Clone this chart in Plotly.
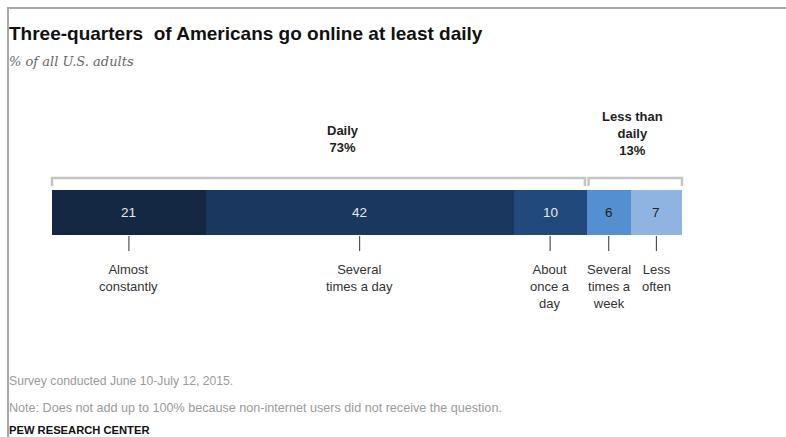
import plotly.graph_objects as go

# ---- data ----
categories = ["Almost constantly", "Several times a day", "About once a day",
              "Several times a week", "Less often"]
values = [21, 42, 10, 6, 7]
below_labels = ["Almost<br>constantly", "Several<br>times a day", "About<br>once a<br>day",
                "Several<br>times a<br>week", "Less<br>often"]
colors = ["#142843", "#1a375f", "#21497b", "#548fd2", "#90b4e2"]
value_text_colors = ["#e8e8e8", "#e8e8e8", "#e8e8e8", "#222222", "#222222"]
group_labels = ["<b>Daily<br>73%</b>", "<b>Less than<br>daily<br>13%</b>"]
group_spans = [(0, 73), (73, 86)]

title = "<b>Three-quarters  of Americans go online at least daily</b>"
subtitle = "<i>% of all U.S. adults</i>"
source = "Survey conducted June 10-July 12, 2015."
note = "Note: Does not add up to 100% because non-internet users did not receive the question."
credit = "<b>PEW RESEARCH CENTER</b>"

W, H = 786, 437
total = sum(values)
k = 630 / total  # px per unit
x_left_px = 52

fig = go.Figure()
for c, v, col in zip(categories, values, colors):
    fig.add_trace(go.Bar(y=[212.5], x=[v], width=[45], orientation="h", name=c,
                         marker=dict(color=col, line=dict(width=0)),
                         hoverinfo="name+x", showlegend=False))

fig.update_layout(
    width=W, height=H, barmode="stack", bargap=0,
    margin=dict(l=0, r=0, t=0, b=0),
    paper_bgcolor="white", plot_bgcolor="white",
    xaxis=dict(range=[-x_left_px / k, (W - x_left_px) / k], visible=False, fixedrange=True),
    yaxis=dict(range=[H, 0], visible=False, fixedrange=True),
    font=dict(family="Liberation Sans, Arial, sans-serif", color="#333333"),
)

ann = []
shapes = []
cum = 0
for v, lab, tc in zip(values, below_labels, value_text_colors):
    cx = cum + v / 2
    ann.append(dict(x=cx, y=212.5, xref="x", yref="y", text=str(v), showarrow=False,
                    font=dict(size=13.5, color=tc), xanchor="center", yanchor="middle"))
    shapes.append(dict(type="line", xref="x", yref="y", x0=cx, x1=cx, y0=236, y1=251,
                       line=dict(color="#333333", width=1)))
    ann.append(dict(x=cx, y=260, xref="x", yref="y", text=lab, showarrow=False,
                    font=dict(size=13, color="#333333"), xanchor="center", yanchor="top"))
    cum += v

# group brackets and labels
gap = 0.25
for i, ((a, b), gl) in enumerate(zip(group_spans, group_labels)):
    x0 = a + (gap if i > 0 else 0)
    x1 = b - (gap if i == 0 else 0)
    shapes.append(dict(type="path", xref="x", yref="y",
                       path=f"M {x0},186 L {x0},178 L {x1},178 L {x1},186",
                       line=dict(color="#c4c4c4", width=2.5)))
cx_daily = 39.7
cx_less = 79.2
ann.append(dict(x=cx_daily, y=157, xref="x", yref="y", text=group_labels[0], showarrow=False,
                font=dict(size=13, color="#222222"), xanchor="center", yanchor="bottom"))
ann.append(dict(x=cx_less, y=160, xref="x", yref="y", text=group_labels[1], showarrow=False,
                font=dict(size=13, color="#222222"), xanchor="center", yanchor="bottom"))

# title etc. (paper coords)
def px(x):
    return x / W

def py(y):
    return 1 - y / H

ann.append(dict(x=px(7), y=py(34), xref="paper", yref="paper", text=title, showarrow=False,
                font=dict(size=19, color="#111111"), xanchor="left", yanchor="middle"))
ann.append(dict(x=px(7), y=py(62), xref="paper", yref="paper", text=subtitle, showarrow=False,
                font=dict(size=13, color="#666666", family="DejaVu Serif, Georgia, serif"),
                xanchor="left", yanchor="middle"))
ann.append(dict(x=px(7), y=py(381), xref="paper", yref="paper", text=source, showarrow=False,
                font=dict(size=12.2, color="#9a9a9a"), xanchor="left", yanchor="middle"))
ann.append(dict(x=px(7), y=py(408), xref="paper", yref="paper", text=note, showarrow=False,
                font=dict(size=12.6, color="#9a9a9a"), xanchor="left", yanchor="middle"))
ann.append(dict(x=px(7), y=py(430), xref="paper", yref="paper", text=credit, showarrow=False,
                font=dict(size=11.2, color="#111111"), xanchor="left", yanchor="middle"))

# frame lines (top and left)
shapes.append(dict(type="line", xref="paper", yref="paper", x0=px(8), x1=1, y0=py(8), y1=py(8),
                   line=dict(color="#a8a8a8", width=2)))
shapes.append(dict(type="line", xref="paper", yref="paper", x0=px(8), x1=px(8), y0=py(7), y1=0,
                   line=dict(color="#a8a8a8", width=2)))

fig.update_layout(annotations=ann, shapes=shapes)
fig.write_html("out.html")
